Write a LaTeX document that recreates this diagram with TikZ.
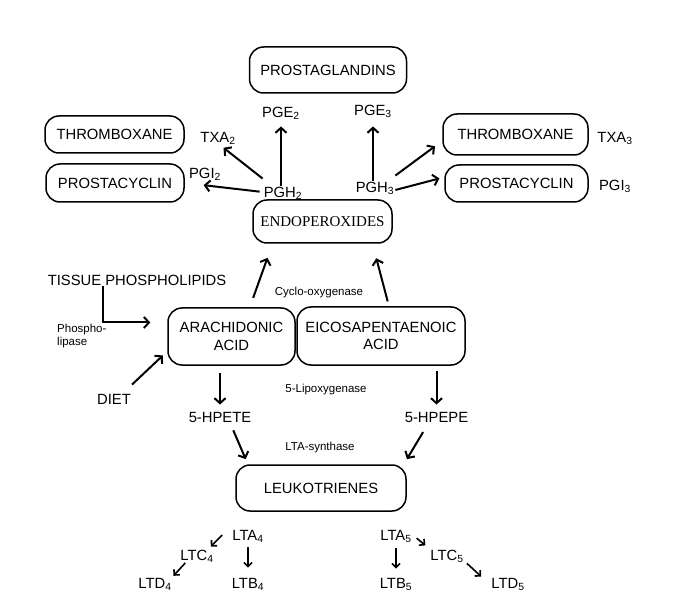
\documentclass[tikz,border=0pt]{standalone}
\usepackage{fontspec}
\setmainfont{Liberation Sans}
\newfontfamily\serifa{Liberation Serif}
\usetikzlibrary{arrows.meta}
\tikzset{rbox/.style={draw,rounded corners=14pt,line width=1.5pt,inner sep=0pt,align=center,font=\fontsize{14.8}{17.5}\selectfont},
  lab/.style={inner sep=1pt,text height=10.5pt,text depth=0pt,font=\fontsize{14.8}{17}\selectfont},
  sm/.style={inner sep=1pt,font=\fontsize{11.5}{13}\selectfont},
  arr/.style={-{Straight Barb[length=5pt,width=11pt]},line width=2pt},
  sarr/.style={-{Straight Barb[length=4pt,width=8pt]},line width=1.6pt}}

\begin{document}
\begin{tikzpicture}[x=1pt,y=-1pt]
    \useasboundingbox (0,0) rectangle (694,604);
    % boxes
    \node[rbox,minimum width=157pt,minimum height=46pt] (prost)at (328,70) {PROSTAGLANDINS};
    \node[rbox,minimum width=139pt,minimum height=37pt] (thrl)at (114.5,134.5) {THROMBOXANE};
    \node[rbox,minimum width=138pt,minimum height=38pt] (prol)at (115,183) {PROSTACYCLIN};
    \node[rbox,minimum width=145pt,minimum height=41pt] (thrr)at (515.5,134.5) {THROMBOXANE};
    \node[rbox,minimum width=143pt,minimum height=37pt] (pror)at (516.5,183.5) {PROSTACYCLIN};
    \node[rbox,minimum width=139pt,minimum height=43pt,font=\serifa\fontsize{15}{17}\selectfont] (endo)at (322.5,221.5) {ENDOPEROXIDES};
    \node[rbox,minimum width=127pt,minimum height=57pt] (arach)at (231.5,336.5) {ARACHIDONIC\\ACID};
    \node[rbox,minimum width=168pt,minimum height=58pt] (eico)at (381,336) {EICOSAPENTAENOIC\\ACID};
    \node[rbox,minimum width=170pt,minimum height=46pt] (leuko)at (321,488) {LEUKOTRIENES};

    % labels
    \node[lab] (pge2)at (281,112) {PGE\textsubscript{2}};
    \node[lab] (pge3)at (373,110) {PGE\textsubscript{3}};
    \node[lab] (txa2)at (218,137) {TXA\textsubscript{2}};
    \node[lab] (pgi2)at (205,173) {PGI\textsubscript{2}};
    \node[lab] (pgh2)at (283,192) {PGH\textsubscript{2}};
    \node[lab] (pgh3)at (375,187) {PGH\textsubscript{3}};
    \node[lab] (txa3)at (615,137) {TXA\textsubscript{3}};
    \node[lab] (pgi3)at (615,185) {PGI\textsubscript{3}};
    \node[lab] (tissue)at (137,280) {TISSUE PHOSPHOLIPIDS};
    \node[lab] (diet)at (114,399) {DIET};
    \node[lab] (hpete)at (220,417) {5-HPETE};
    \node[lab] (hpepe)at (436.5,417) {5-HPEPE};
    \node[lab] (lta4)at (248,535) {LTA\textsubscript{4}};
    \node[lab] (ltc4)at (197,555) {LTC\textsubscript{4}};
    \node[lab] (ltd4)at (155,583) {LTD\textsubscript{4}};
    \node[lab] (ltb4)at (248,583) {LTB\textsubscript{4}};
    \node[lab] (lta5)at (396,535) {LTA\textsubscript{5}};
    \node[lab] (ltc5)at (447,555) {LTC\textsubscript{5}};
    \node[lab] (ltd5)at (508,583) {LTD\textsubscript{5}};
    \node[lab] (ltb5)at (396,583) {LTB\textsubscript{5}};
    \node[sm] (cyclo)at (319,293) {Cyclo-oxygenase};
    \node[sm] (lipox)at (326,390) {5-Lipoxygenase};
    \node[sm] (ltasyn)at (320,448) {LTA-synthase};
    \node[sm,align=left,anchor=west] (phos)at (56,336.5) {Phospho-\\lipase};
    \coordinate (plip) at ([xshift=-17pt,yshift=14pt]arach.west);

    % arrows
    \draw [arr,shorten >=8pt] (pge2.south |- pgh2.north) to (pge2.south);
    \draw [arr,shorten >=10pt] (pge3.south |- pgh3.north) to (pge3.south);
    \draw [arr,shorten >=7pt] ([yshift=7pt]pgh2.north west) to (txa2.south);
    \draw [arr,shorten <=3pt,shorten >=19pt] (pgh2.west) to (prol.east);
    \draw [arr,shorten >=9pt] ([yshift=5pt]pgh3.north east) to (thrr.185);
    \draw [arr,shorten >=5pt] ([yshift=-3pt]pgh3.east) to (pror.175);
    \draw [arr,shorten <=10pt,shorten >=15pt] (arach.58) to (endo.204);
    \draw [arr,shorten <=5pt,shorten >=15pt] (eico.75) to (endo.336);
    \draw [arr] ([xshift=56pt]tissue.south west) |- (plip);
    \draw [arr,shorten >=6pt] ([yshift=8pt]diet.north east) to (arach.193);
    \draw [arr,shorten <=7pt,shorten >=6pt] (hpete.north |- arach.south) to (hpete.north);
    \draw [arr,shorten <=5pt,shorten >=6pt] (hpepe.north |- eico.south) to (hpepe.north);
    \draw [arr,shorten <=7.5pt,shorten >=5.6pt] (hpete.328) to (leuko.162);
    \draw [arr,shorten <=10pt,shorten >=6pt] (hpepe.218) to (leuko.16);
    \draw [sarr] ([xshift=-9pt]lta4.west) to ([xshift=-4pt,yshift=2pt]ltc4.north east);
    \draw [sarr,shorten <=2pt,shorten >=1pt] (ltc4.212) to (ltd4.north east);
    \draw [sarr,shorten <=6pt,shorten >=9pt] (lta4) to (ltb4);
    \draw [sarr,shorten <=7pt,shorten >=8pt] (lta5) to (ltb5);
    \draw [sarr,shorten <=5pt,shorten >=5pt] (lta5.east) to (ltc5.north west);
    \draw [sarr,shorten <=3pt] (ltc5.south east) to ([xshift=-9pt]ltd5.north west);
\end{tikzpicture}
\end{document}
